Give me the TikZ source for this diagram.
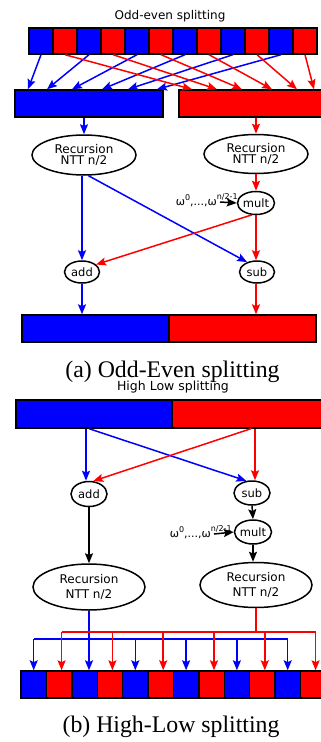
\documentclass[tikz,border=0pt]{standalone}
\usepackage{fontspec}
\setmainfont{Liberation Serif}
\newfontfamily\dvsans{DejaVu Sans}
\usetikzlibrary{shapes.geometric,arrows.meta}
\definecolor{pblue}{RGB}{0,0,255}
\definecolor{pred}{RGB}{255,0,0}
\newcommand{\supsm}[2]{\raisebox{#1}{\fontsize{8}{8}\selectfont #2}}
\begin{document}
\begin{tikzpicture}[x=1pt,y=-1pt,
  lbl/.style={font=\dvsans\fontsize{12}{12}\selectfont, inner sep=0pt},
  omlbl/.style={font=\dvsans\fontsize{11}{12}\selectfont, inner sep=0pt},
  cellbox/.style={draw=black, line width=1.4pt, inner sep=0pt},
  bcell/.style={cellbox, fill=pblue},
  rcell/.style={cellbox, fill=pred},
  opnode/.style={ellipse, draw, line width=1.5pt, inner sep=0pt,
    minimum width=36pt, minimum height=23pt,
    font=\dvsans\fontsize{11.5}{12}\selectfont},
  recnode/.style={opnode, align=center},
  conn/.style={line width=1.5pt, -{Stealth[length=10pt,width=8pt,inset=1.8pt]}},
  bconn/.style={conn, pblue},
  rconn/.style={conn, pred},
  kconn/.style={conn, black},
  wire/.style={line width=1.5pt},
  caption/.style={font=\fontsize{23.8}{26}\selectfont, inner sep=0pt, anchor=base},
]
\useasboundingbox (0,0) rectangle (321,742);

% ---------------- (a) odd-even splitting ----------------
\node[lbl] (titleA) at (170,16) {Odd-even splitting};

\foreach \i in {0,2,...,10}
  \node[bcell, minimum width=24pt, minimum height=26pt] (a\i) at ({41+24*\i},41) {};
\foreach \i in {1,3,...,11}
  \node[rcell, minimum width=24pt, minimum height=26pt] (a\i) at ({41+24*\i},41) {};

\node[bcell, minimum width=148pt, minimum height=27pt] (blueA) at (89,103.5) {};
\node[rcell, minimum width=151pt, minimum height=27pt] (redA) at (254.5,103.5) {};

% even coefficients go to the left half, odd ones to the right half
\foreach \i/\x in {0/28,2/47,4/72,6/102,8/128,10/157} {
  \coordinate (ta\i) at (\x,0 |- blueA.north);
  \draw[bconn] (a\i.south) -- (ta\i);
}
\foreach \i/\x in {1/192,3/217,5/242,7/272,9/297,11/314} {
  \coordinate (ta\i) at (\x,0 |- redA.north);
  \draw[rconn] (a\i.south) -- (ta\i);
}

\node[recnode, minimum width=104pt, minimum height=40pt,
  font=\dvsans\fontsize{12}{11.5}\selectfont] (L1) at (84,155) {Recursion\\NTT n/2};
\node[recnode, minimum width=104pt, minimum height=39pt,
  font=\dvsans\fontsize{12}{11.5}\selectfont] (R1) at (256,154) {Recursion\\NTT n/2};
\node[opnode] (mult1) at (256,203) {mult};
\node[opnode, minimum width=35pt, minimum height=22pt] (add1) at (82,272) {add};
\node[opnode, minimum width=35pt, minimum height=22pt] (sub1) at (257,272) {sub};
\node[omlbl, anchor=base east] (om1) at (217,205)
  {ω\supsm{5pt}{0},...,ω\rlap{\supsm{6pt}{n/2-1}}};

\draw[bconn] (blueA.south -| L1.north) -- (L1.north);
\draw[rconn] (redA.south -| R1.north) -- (R1.north);
\draw[rconn] (R1.south -| mult1.north) -- (mult1.north);
\draw[kconn] ([xshift=3pt,yshift=3pt]om1.base east) -- (mult1.west);
\draw[bconn] (L1.south -| add1.north) -- (add1.north);
\draw[bconn] (L1.-78) -- (sub1.135);
\draw[rconn] (mult1.250) -- (add1.28);
\draw[rconn] (mult1.south) -- (mult1.south |- sub1.north);

\node[bcell, minimum width=147pt, minimum height=27pt] (botL) at (95.5,328.5) {};
\node[rcell, minimum width=147pt, minimum height=27pt] (botR) at (242.5,328.5) {};
\draw[bconn] (add1.south) -- (add1.south |- botL.north);
\draw[rconn] (sub1.south -| 256,0) -- (256,0 |- botR.north);

\node[caption] (capA) at (172.5,377) {(a) Odd-Even splitting};

% ---------------- (b) high-low splitting ----------------
\node[lbl, font=\dvsans\fontsize{12.5}{12.5}\selectfont] (titleB) at (173,387) {High Low splitting};

\node[bcell, minimum width=156pt, minimum height=28pt] (hlB) at (94,414) {};
\node[rcell, minimum width=158pt, minimum height=28pt] (hlR) at (251,414) {};

\node[opnode, minimum height=25pt] (add2) at (89,494) {add};
\node[opnode, minimum height=24pt] (sub2) at (252,493) {sub};
\node[opnode, minimum height=24pt] (mult2) at (253,532) {mult};
\node[omlbl, anchor=base east] (om2) at (211,537)
  {ω\supsm{5pt}{0},...,ω\rlap{\supsm{6pt}{n/2-1}}};

\coordinate (hb1) at (86,0 |- hlB.south);
\coordinate (hb2) at (89,0 |- hlB.south);
\coordinate (hr1) at (251,0 |- hlR.south);
\coordinate (hr2) at (255,0 |- hlR.south);
\draw[bconn] (hb1) -- (hb1 |- add2.north);
\draw[bconn] (hb2) -- (sub2.115);
\draw[rconn] (hr1) -- (add2.72);
\draw[rconn] (hr2) -- (hr2 |- sub2.north);
\draw[kconn] (sub2.south) -- (mult2.north);
\draw[kconn] ([xshift=3pt,yshift=3pt]om2.base east) -- (mult2.west);

\node[recnode, minimum width=112pt, minimum height=46pt,
  font=\dvsans\fontsize{12}{14.5}\selectfont] (L2) at (89,587) {Recursion\\NTT n/2};
\node[recnode, minimum width=112pt, minimum height=45pt,
  font=\dvsans\fontsize{12}{14.5}\selectfont] (R2) at (256,585) {Recursion\\NTT n/2};
\draw[kconn] (add2.south) -- (add2.south |- L2.north);
\draw[kconn] (mult2.south) -- (mult2.south |- R2.north);

\foreach \i in {0,2,...,10}
  \node[bcell, minimum width=25.4pt, minimum height=27pt] (b\i) at ({33.7+25.4*\i},684.5) {};
\foreach \i in {1,3,...,11}
  \node[rcell, minimum width=25.4pt, minimum height=27pt] (b\i) at ({33.7+25.4*\i},684.5) {};

% scatter the two halves back into interleaved positions
\coordinate (busB) at (0,639);
\coordinate (busR) at (0,632);
\draw[wire, pblue] (b0.north |- busB) -- (b10.north |- busB);
\draw[bconn] (L2.south) -- (L2.south |- b2.north);
\foreach \i in {0,4,6,8,10}
  \draw[bconn] (b\i.north |- busB) -- (b\i.north);
\draw[wire, pred] (R2.south) -- (R2.south |- busR);
\draw[wire, pred] ([xshift=2.5pt]b1.north |- busR) -- ([xshift=2.5pt]b11.north |- busR);
\foreach \i in {1,3,...,11}
  \draw[rconn] ([xshift=2.5pt]b\i.north |- busR) -- ([xshift=2.5pt]b\i.north);

\node[caption] (capB) at (171,732) {(b) High-Low splitting};
\end{tikzpicture}
\end{document}
